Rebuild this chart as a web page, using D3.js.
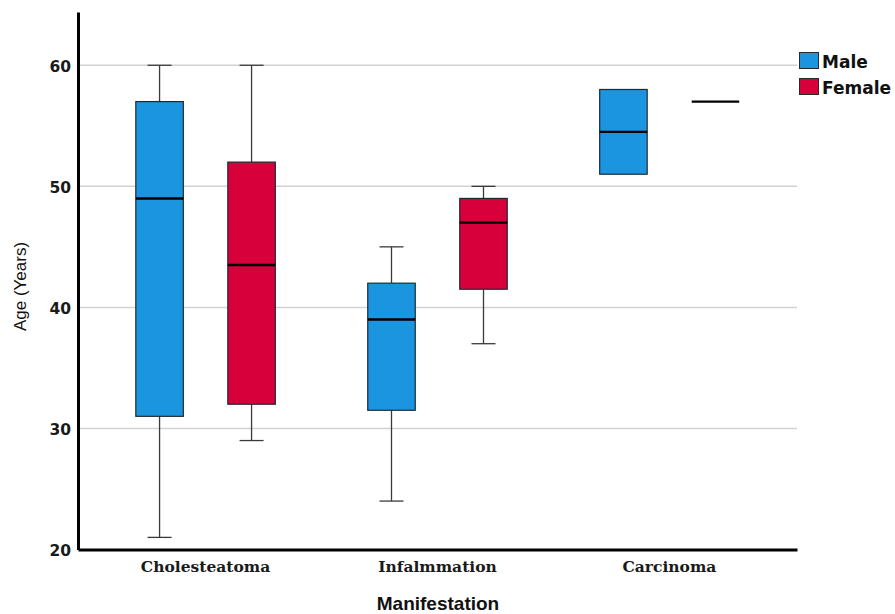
<!DOCTYPE html>
<html>
<head>
<meta charset="utf-8">
<script src="https://cdn.jsdelivr.net/npm/d3@7"></script>
<style>
  html, body { margin: 0; padding: 0; background: #fff; }
  svg { display: block; }
</style>
</head>
<body>
<svg id="chart" width="895" height="614"></svg>
<script>
// ---------- data ----------
const categories = ["Cholesteatoma", "Infalmmation", "Carcinoma"];
const genders = ["Male", "Female"];
// [min, Q1, median, Q3, max] per category
const maleStats = [
  [21, 31, 49, 57, 60],
  [24, 31.5, 39, 42, 45],
  [51, 51, 54.5, 58, 58]
];
const femaleStats = [
  [29, 32, 43.5, 52, 60],
  [37, 41.5, 47, 49, 50],
  [57, 57, 57, 57, 57]
];
const yTicks = [20, 30, 40, 50, 60];
const yDomain = [20, 64.4];
const xTitle = "Manifestation";
const yTitle = "Age (Years)";

// ---------- styles ----------
const colors = { Male: "#1c95e0", Female: "#d8003a" };

const svg = d3.select("#chart");

const x0 = d3.scaleBand().domain(categories).range([78, 797]).paddingInner(0).paddingOuter(0.05);
const x1 = d3.scalePoint().domain(genders).range([x0.bandwidth() / 2 - 46, x0.bandwidth() / 2 + 46]);
const y = d3.scaleLinear().domain(yDomain).range([549.5, 12]);
const color = d3.scaleOrdinal().domain(genders).range([colors.Male, colors.Female]);

const boxW = 47.5, capW = 24;

// gridlines
svg.append("g")
  .selectAll("line")
  .data(yTicks.filter(t => t > yDomain[0]))
  .join("line")
  .attr("x1", 79).attr("x2", 797)
  .attr("y1", d => y(d)).attr("y2", d => y(d))
  .attr("stroke", "#d2d2d2")
  .attr("stroke-width", 1.5);

// boxes
const records = [];
categories.forEach((c, i) => {
  records.push({ cat: c, g: "Male", s: maleStats[i] });
  records.push({ cat: c, g: "Female", s: femaleStats[i] });
});

const groups = svg.append("g").selectAll("g")
  .data(records)
  .join("g")
  .attr("transform", d => `translate(${x0(d.cat) + x1(d.g)},0)`);

groups.each(function(d) {
  const g = d3.select(this);
  const [mn, q1, md, q3, mx] = d.s;
  const ws = [];
  if (mx > q3) ws.push([q3, mx]);
  if (mn < q1) ws.push([mn, q1]);
  ws.forEach(([a, b]) => {
    g.append("line")
      .attr("x1", 0).attr("x2", 0)
      .attr("y1", y(a)).attr("y2", y(b))
      .attr("stroke", "#3a3a3a").attr("stroke-width", 1.3);
  });
  if (mx > q3) g.append("line").attr("x1", -capW / 2).attr("x2", capW / 2)
    .attr("y1", y(mx)).attr("y2", y(mx)).attr("stroke", "#3a3a3a").attr("stroke-width", 1.3);
  if (mn < q1) g.append("line").attr("x1", -capW / 2).attr("x2", capW / 2)
    .attr("y1", y(mn)).attr("y2", y(mn)).attr("stroke", "#3a3a3a").attr("stroke-width", 1.3);
  if (q3 > q1) {
    g.append("rect")
      .attr("x", -boxW / 2).attr("width", boxW)
      .attr("y", y(q3)).attr("height", y(q1) - y(q3))
      .attr("fill", color(d.g))
      .attr("stroke", "#1e2a33").attr("stroke-width", 1.2);
  }
  g.append("line")
    .attr("x1", -boxW / 2).attr("x2", boxW / 2)
    .attr("y1", y(md)).attr("y2", y(md))
    .attr("stroke", "#000").attr("stroke-width", 2.4);
});

// y axis
const yAxis = svg.append("g")
  .attr("transform", "translate(78,0)")
  .call(d3.axisLeft(y).tickValues(yTicks).tickSize(0).tickSizeOuter(0).tickPadding(7).tickFormat(d3.format("d")));
yAxis.select(".domain").attr("stroke", "#000").attr("stroke-width", 3);
yAxis.selectAll("text")
  .attr("font-family", "'DejaVu Sans', sans-serif")
  .attr("font-weight", "bold")
  .attr("font-size", 15.5)
  .attr("fill", "#1a1a1a")
  .attr("dy", "0.4em");

// x axis
const xAxis = svg.append("g")
  .attr("transform", "translate(0,549.5)")
  .call(d3.axisBottom(x0).tickSize(0).tickSizeOuter(0).tickPadding(0));
xAxis.select(".domain").attr("stroke", "#000").attr("stroke-width", 3);
xAxis.selectAll("text")
  .attr("font-family", "'DejaVu Serif', serif")
  .attr("font-weight", "bold")
  .attr("font-size", 15.5)
  .attr("fill", "#1a1a1a")
  .attr("y", 22)
  .attr("dy", 0);

// axis titles
svg.append("text")
  .attr("x", 438).attr("y", 610)
  .attr("text-anchor", "middle")
  .attr("font-family", "'Liberation Sans', Arial, sans-serif")
  .attr("font-weight", "bold")
  .attr("font-size", 19)
  .attr("fill", "#111")
  .text(xTitle);

svg.append("text")
  .attr("transform", "translate(26,286.5) rotate(-90)")
  .attr("text-anchor", "middle")
  .attr("font-family", "'Liberation Sans', Arial, sans-serif")
  .attr("font-size", 17)
  .attr("fill", "#111")
  .text(yTitle);

// legend
const legend = svg.append("g").attr("transform", "translate(799,52)");
const li = legend.selectAll("g").data(genders).join("g")
  .attr("transform", (d, i) => `translate(0,${i * 26})`);
li.append("rect")
  .attr("x", 0.5).attr("y", 0.5).attr("width", 19).attr("height", 16)
  .attr("fill", d => color(d))
  .attr("stroke", "#2a2a2a").attr("stroke-width", 1);
li.append("text")
  .attr("x", 23).attr("y", 16.3)
  .attr("font-family", "'DejaVu Sans', sans-serif")
  .attr("font-weight", "bold")
  .attr("font-size", 17)
  .attr("fill", "#111")
  .text(d => d);
</script>
</body>
</html>
